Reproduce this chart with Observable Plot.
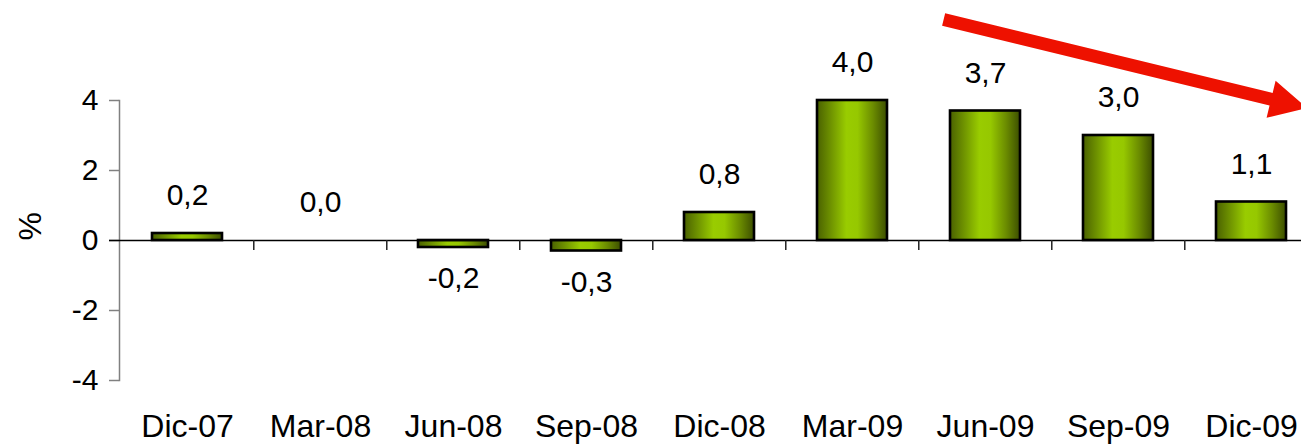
<!DOCTYPE html>
<html><head><meta charset="utf-8">
<script src="https://cdn.jsdelivr.net/npm/d3@7"></script>
<script src="https://cdn.jsdelivr.net/npm/@observablehq/plot@0.6"></script>
<style>html,body{margin:0;padding:0;background:#fff;}</style>
</head><body><div id="chart"></div>
<script>
// ---- data ----
const categories = ["Dic-07", "Mar-08", "Jun-08", "Sep-08", "Dic-08", "Mar-09", "Jun-09", "Sep-09", "Dic-09"];
const values = [0.2, 0.0, -0.2, -0.3, 0.8, 4.0, 3.7, 3.0, 1.1];
const yTicks = [-4, -2, 0, 2, 4];
const yLabel = "%";
// trend arrow annotation (category + fraction of a band step, value)
const arrowStart = {category: "Jun-09", shift: -0.31, value: 6.3};
const arrowEnd = {category: "Dic-09", shift: 0.42, value: 3.77};

const data = categories.map((c, i) => ({cat: c, value: values[i]}));
const fmt = v => v.toFixed(1).replace(".", ",");

const W = 1301, H = 446;
const xRange = [119, 1320];
const step = (xRange[1] - xRange[0]) / categories.length;
const font = "'Liberation Sans', Arial, Helvetica, sans-serif";

const gradient = () => {
  const ns = "http://www.w3.org/2000/svg";
  const defs = document.createElementNS(ns, "defs");
  defs.innerHTML = `<linearGradient id="barGrad" x1="0" x2="1" y1="0" y2="0">
    <stop offset="0" stop-color="#4a6100"/>
    <stop offset="0.2" stop-color="#6f9300"/>
    <stop offset="0.42" stop-color="#99cc00"/>
    <stop offset="0.58" stop-color="#96c800"/>
    <stop offset="0.8" stop-color="#6b8c00"/>
    <stop offset="1" stop-color="#3c4e00"/>
  </linearGradient>`;
  return defs;
};

const chart = Plot.plot({
  width: W, height: H,
  marginLeft: 119, marginRight: 0, marginTop: 100, marginBottom: 66,
  style: {fontFamily: font, background: "#fff", color: "#000"},
  x: {domain: categories, range: xRange, paddingInner: 0.47, paddingOuter: 0.235, axis: null},
  y: {domain: [-4, 4], axis: null},
  marks: [
    gradient,
    Plot.frame({anchor: "left", stroke: "#808080", strokeWidth: 1.5}),
    Plot.axisY(yTicks, {tickSize: 10, tickPadding: 11, stroke: "#808080", fill: "#000", fontSize: 30, tickFormat: d => String(d), label: null, strokeWidth: 1.5}),
    Plot.text([yLabel], {frameAnchor: "left", rotate: -90, dx: -89, fontSize: 32, fill: "#000"}),
    Plot.axisX(categories, {tickSize: 0, tickPadding: 34, fontSize: 32, fill: "#000", label: null}),
    Plot.barY(data, {x: "cat", y: "value", fill: "url(#barGrad)", stroke: "#000", strokeWidth: 2.6}),
    Plot.ruleY([0], {stroke: "#000", strokeWidth: 1.5, insetLeft: -10}),
    Plot.ruleX(categories.slice(1), {x: d => d, y1: 0, y2: 0, insetBottom: -10, dx: -step / 2, stroke: "#222", strokeWidth: 1.5}),
    Plot.text(data.filter(d => d.value >= 0), {x: "cat", y: "value", text: d => fmt(d.value), dy: -38, fontSize: 30, fill: "#000"}),
    Plot.text(data.filter(d => d.value < 0), {x: "cat", y: "value", text: d => fmt(d.value), dy: 31, fontSize: 30, fill: "#000"})
  ]
});
document.getElementById("chart").appendChild(chart);

// arrow annotation placed through the chart's own scales
const sx = chart.scale("x"), sy = chart.scale("y");
const bw = sx.bandwidth || 0;
const pos = p => [sx.apply(p.category) + bw / 2 + p.shift * step, sy.apply(p.value)];
const S = pos(arrowStart), T = pos(arrowEnd);
const dxv = T[0] - S[0], dyv = T[1] - S[1], len = Math.hypot(dxv, dyv);
const u = [dxv / len, dyv / len], n = [-u[1], u[0]];
const hw = 6.5, headLen = 37, headHW = 19;
const B = [T[0] - u[0] * headLen, T[1] - u[1] * headLen];
const pts = [
  [S[0] + n[0] * hw, S[1] + n[1] * hw],
  [B[0] + n[0] * hw, B[1] + n[1] * hw],
  [B[0] + n[0] * headHW, B[1] + n[1] * headHW],
  T,
  [B[0] - n[0] * headHW, B[1] - n[1] * headHW],
  [B[0] - n[0] * hw, B[1] - n[1] * hw],
  [S[0] - n[0] * hw, S[1] - n[1] * hw]
];
d3.select(chart).append("path")
  .attr("d", "M" + pts.map(p => p.join(",")).join("L") + "Z")
  .attr("fill", "#ee1100");
</script>
</body></html>
